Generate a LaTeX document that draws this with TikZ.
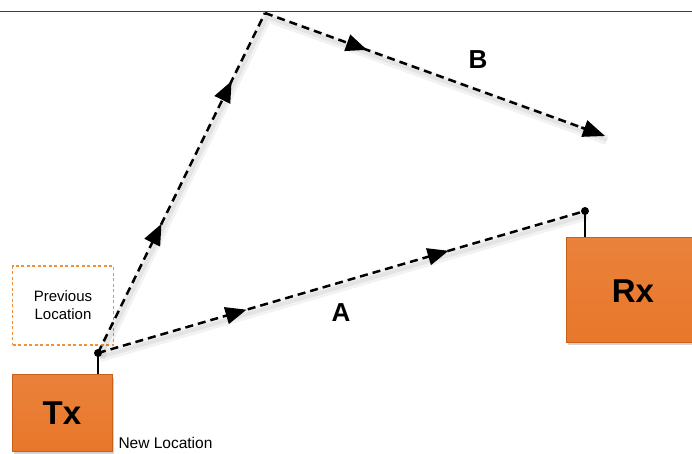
\documentclass[tikz,border=0pt]{standalone}
\usepackage{fontspec}
\setmainfont{Liberation Sans}
\usetikzlibrary{arrows.meta,decorations.markings,shadows,calc}
\definecolor{boxorange}{HTML}{E8772A}
\definecolor{boxdark}{HTML}{C8601C}
\definecolor{prevorange}{HTML}{F0913A}
\tikzset{
  ray/.style={line width=2.5pt, dash pattern=on 8pt off 5pt, black},
  rayshadow/.style={line width=10pt, black, opacity=0.05, transform canvas={shift={(2pt,-4pt)}}},
  rayshadowin/.style={line width=4pt, black, opacity=0.06, transform canvas={shift={(2pt,-4pt)}}},
  unitbox/.style={draw=boxdark, line width=0.6pt, top color=boxorange!92!white, bottom color=boxorange, inner sep=0pt,
     drop shadow={shadow xshift=2pt, shadow yshift=-3pt, opacity=0.35}},
  unitlabel/.style={font=\bfseries\fontsize{33}{35}\selectfont},
  raylabel/.style={font=\bfseries\fontsize{26}{28}\selectfont},
  antdot/.style={circle, fill=black, inner sep=0pt, minimum size=8pt},
}
\def\tip{\arrow[solid]{Triangle[length=21pt,width=17pt]}}
\begin{document}
\begin{tikzpicture}[x=1pt,y=-1pt]
\useasboundingbox (0,0) rectangle (692,454);
% top reflecting surface
\coordinate (wl) at (0,12);
\coordinate (wr) at (692,12);
\draw[line width=1pt, black!75] (wl) -- (wr);

% previous location
\node[draw=prevorange, dash pattern=on 3pt off 2.5pt, line width=1.4pt, minimum width=101pt, minimum height=79pt,
      align=center, font=\fontsize{15}{18}\selectfont] (prev) at (63,305.5) {Previous\\Location};

% Tx and Rx boxes
\node[unitbox, minimum width=100pt, minimum height=77pt] (tx) at (62,413) {};
\node[unitlabel] at (tx.center) {Tx};
\node[unitbox, minimum width=130pt, minimum height=105pt, anchor=north west] (rx) at (566,237) {};
\node[unitlabel] at (633,291) {Rx};
\node[anchor=west, font=\fontsize{15.5}{18}\selectfont] (newloc) at (115,443) {New Location};

% antennas
\node[antdot] (txant) at (98,353) {};
\node[antdot] (rxant) at (585,211) {};
\draw[line width=1.1pt] (txant.center) -- (txant.center |- tx.north);
\draw[line width=1.1pt] (rxant.center) -- (rxant.center |- rx.north);

\coordinate (refl) at (265,13);
\coordinate (bend) at (605,136);

% shadows of rays
\draw[rayshadow] (txant.center) -- (refl) -- (bend);
\draw[rayshadow] (txant.center) -- (rxant.center);
\draw[rayshadowin] (txant.center) -- (refl) -- (bend);
\draw[rayshadowin] (txant.center) -- (rxant.center);

% ray A
\draw[ray, postaction={decorate, decoration={markings,
   mark=at position 0.305 with {\tip},
   mark=at position 0.72 with {\tip}}}]
   (txant.center) -- (rxant.center);
% ray B
\draw[ray, postaction={decorate, decoration={markings,
   mark=at position 0.38 with {\tip},
   mark=at position 0.80 with {\tip}}}]
   (txant.center) -- (refl);
\draw[ray, postaction={decorate, decoration={markings,
   mark=at position 0.30 with {\tip}}}]
   (refl) -- (bend);
\draw[line width=2.5pt, -{Triangle[length=22pt,width=17pt]}] ($(refl)!0.93!(bend)$) -- (bend);

% labels
\node[raylabel] (la) at (341,313) {A};
\node[raylabel] (lb) at (478,60) {B};
\end{tikzpicture}
\end{document}
